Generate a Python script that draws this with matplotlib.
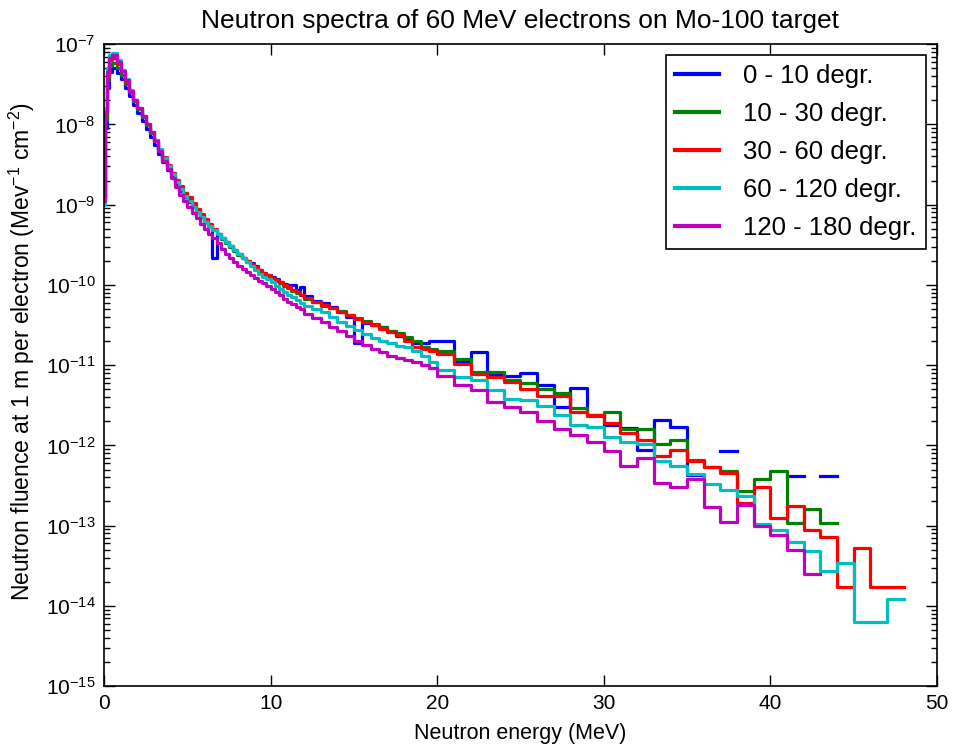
import numpy as np
import matplotlib
matplotlib.use('Agg')
import matplotlib.pyplot as plt
from matplotlib.ticker import FixedLocator, NullFormatter, MultipleLocator, LogFormatterSciNotation

plt.rcParams['font.family'] = ['Liberation Sans', 'DejaVu Sans']
plt.rcParams['mathtext.fontset'] = 'custom'
plt.rcParams['mathtext.rm'] = 'Liberation Sans'
plt.rcParams['mathtext.it'] = 'Liberation Sans:italic'
plt.rcParams['mathtext.sf'] = 'Liberation Sans'

# ---- data -------------------------------------------------------------
# bin edges (MeV)
edges = np.concatenate([
    [0.0, 0.05, 0.15, 0.3, 0.5, 0.75, 1.0],
    np.arange(1.25, 12.01, 0.25),
    np.arange(12.5, 20.01, 0.5),
    np.arange(21.0, 48.01, 1.0),
])

labels = ['0 - 10 degr.', '10 - 30 degr.', '30 - 60 degr.', '60 - 120 degr.', '120 - 180 degr.']
colors = ['b', 'g', 'r', 'c', 'm']
decades = [-15, -14, -13, -12, -11, -10, -9, -8, -7]

nan = np.nan

# log10 of fluence per bin
log_0_10 = [
    -8.80, -8.05, -7.55, -7.35, -7.30, -7.36,
    -7.43, -7.54, -7.65, -7.76, -7.86, -7.96, -8.06, -8.16,
    -8.26, -8.37, -8.47, -8.57, -8.66, -8.75, -8.83, -8.90,
    -8.97, -9.03, -9.09, -9.15, -9.21, -9.26, -9.67, -9.36,
    -9.42, -9.47, -9.52, -9.57, -9.61, -9.66, -9.70, -9.73,
    -9.77, -9.81, -9.85, -9.88, -9.90, -9.93, -9.96, -9.99,
    -10.00, -10.00, -10.06, -10.02,
    -10.14, -10.20, -10.23, -10.27, -10.34, -10.40, -10.73, -10.47,
    -10.50, -10.53, -10.58, -10.64, -10.68, -10.72, -10.73, -10.70,
    -10.70, -10.96, -10.84, -11.12, -11.14, -11.10, -11.25, -11.52, -11.28, -11.62,
    -11.75, -11.78, -12.06, -11.68, -11.77, -12.37, nan, -12.07, nan, nan,
    nan, -12.38, nan, -12.38, nan, nan, nan, nan,
]
log_10_30 = [
    -8.90, -7.95, -7.45, -7.27, -7.24, -7.30,
    -7.38, -7.49, -7.60, -7.71, -7.81, -7.91, -8.01, -8.11,
    -8.21, -8.32, -8.42, -8.52, -8.61, -8.70, -8.78, -8.86,
    -8.93, -9.00, -9.06, -9.13, -9.19, -9.25, -9.31, -9.37,
    -9.43, -9.48, -9.53, -9.58, -9.63, -9.67, -9.71, -9.75,
    -9.79, -9.83, -9.86, -9.89, -9.92, -9.95, -9.98, -10.01,
    -10.04, -10.07, -10.10, -10.13,
    -10.17, -10.21, -10.26, -10.29, -10.33, -10.38, -10.41, -10.45,
    -10.49, -10.53, -10.57, -10.60, -10.65, -10.70, -10.77, -10.80,
    -10.83, -10.92, -11.08, -11.08, -11.19, -11.22, -11.30, -11.35, -11.54, -11.64,
    -11.58, -11.79, -11.79, -11.98, -11.93, -12.18, -12.27, -12.32, -12.57, -12.42,
    -12.32, -12.97, -12.79, -12.97, nan, nan, nan, nan,
]
log_30_60 = [
    -8.90, -7.85, -7.38, -7.20, -7.17, -7.25,
    -7.34, -7.46, -7.58, -7.70, -7.80, -7.90, -8.00, -8.10,
    -8.20, -8.31, -8.41, -8.51, -8.60, -8.69, -8.77, -8.85,
    -8.91, -8.98, -9.05, -9.12, -9.18, -9.24, -9.30, -9.36,
    -9.42, -9.47, -9.52, -9.57, -9.62, -9.66, -9.70, -9.74,
    -9.78, -9.82, -9.85, -9.88, -9.91, -9.94, -9.97, -10.00,
    -10.03, -10.06, -10.09, -10.12,
    -10.16, -10.21, -10.25, -10.29, -10.34, -10.38, -10.42, -10.46,
    -10.50, -10.55, -10.59, -10.63, -10.70, -10.77, -10.80, -10.82,
    -10.86, -10.99, -11.11, -11.15, -11.21, -11.30, -11.39, -11.39, -11.59, -11.62,
    -11.72, -11.85, -11.93, -12.13, -12.06, -12.20, -12.27, -12.35, -12.72, -12.52,
    -12.90, -12.76, -13.06, -13.14, -13.77, -13.28, -13.77, -13.77,
]
log_60_120 = [
    -9.00, -7.80, -7.30, -7.13, -7.11, -7.20,
    -7.32, -7.44, -7.57, -7.69, -7.79, -7.89, -7.99, -8.09,
    -8.20, -8.31, -8.42, -8.52, -8.62, -8.72, -8.81, -8.89,
    -8.96, -9.03, -9.09, -9.15, -9.21, -9.27, -9.32, -9.37,
    -9.42, -9.47, -9.52, -9.57, -9.62, -9.67, -9.72, -9.77,
    -9.81, -9.86, -9.90, -9.93, -9.97, -10.01, -10.05, -10.09,
    -10.12, -10.15, -10.19, -10.22,
    -10.26, -10.30, -10.34, -10.40, -10.46, -10.51, -10.56, -10.61,
    -10.66, -10.70, -10.73, -10.76, -10.78, -10.82, -10.88, -10.96,
    -11.06, -11.15, -11.19, -11.31, -11.42, -11.44, -11.51, -11.62, -11.75, -11.77,
    -11.89, -11.96, -11.98, -12.19, -12.26, -12.36, -12.48, -12.55, -12.63, -12.98,
    -13.06, -13.21, -13.32, -13.56, -13.46, -14.20, -14.20, -13.91,
]
log_120_180 = [
    -8.95, -7.85, -7.35, -7.17, -7.14, -7.22,
    -7.33, -7.45, -7.58, -7.70, -7.80, -7.90, -8.00, -8.10,
    -8.21, -8.33, -8.45, -8.56, -8.67, -8.78, -8.88, -8.96,
    -9.03, -9.10, -9.17, -9.24, -9.30, -9.36, -9.42, -9.48,
    -9.55, -9.61, -9.66, -9.71, -9.76, -9.80, -9.84, -9.88,
    -9.92, -9.95, -9.98, -10.01, -10.05, -10.09, -10.13, -10.17,
    -10.21, -10.24, -10.27, -10.30,
    -10.36, -10.41, -10.46, -10.52, -10.58, -10.64, -10.70, -10.75,
    -10.80, -10.84, -10.88, -10.91, -10.93, -10.96, -11.00, -11.04,
    -11.14, -11.25, -11.31, -11.46, -11.52, -11.58, -11.69, -11.79, -11.87, -11.96,
    -12.07, -12.26, -12.16, -12.47, -12.52, -12.42, -12.77, -12.95, -12.74, -13.01,
    -13.12, -13.30, -13.60, nan, nan, nan, nan, nan,
]

series = [log_0_10, log_10_30, log_30_60, log_60_120, log_120_180]

# ---- plot -------------------------------------------------------------
fig = plt.figure(figsize=(9.55, 7.49), dpi=100)
ax = fig.add_axes([0.109, 0.084, 0.872, 0.857])

for vals, col, lab in zip(series, colors, labels):
    y = 10.0 ** np.array(vals, dtype=float)
    y = np.append(y, y[-1])
    ax.plot(edges, y, drawstyle='steps-post', color=col, lw=2.3, label=lab)

ax.set_yscale('log')
ax.set_xlim(0, 50)
ax.set_ylim(1e-15, 1e-7)
ax.xaxis.set_major_locator(MultipleLocator(10))
major = [10.0 ** d for d in decades]
minor = [m * 10.0 ** d for d in decades[:-1] for m in range(2, 10)]
ax.yaxis.set_major_locator(FixedLocator(major))
ax.yaxis.set_major_formatter(LogFormatterSciNotation())
ax.yaxis.set_minor_locator(FixedLocator(minor))
ax.yaxis.set_minor_formatter(NullFormatter())
ax.xaxis.get_offset_text().set_visible(False)
ax.yaxis.get_offset_text().set_visible(False)

ax.tick_params(which='both', direction='in', top=True, right=True, labelsize=15)
ax.tick_params(which='major', length=8, width=1)
ax.tick_params(which='minor', length=4, width=1)
ax.tick_params(axis='x', pad=6)
ax.tick_params(axis='y', pad=6)
for s in ax.spines.values():
    s.set_linewidth(1.2)

ax.set_title('Neutron spectra of 60 MeV electrons on Mo-100 target', fontsize=19, pad=12)
ax.set_xlabel('Neutron energy (MeV)', fontsize=15.5, labelpad=7)
ax.set_ylabel('Neutron fluence at 1 m per electron (Mev$^{-1}$ cm$^{-2}$)', fontsize=16.5)
ax.yaxis.set_label_coords(-0.08, 0.522)

leg = ax.legend(loc='upper right', fontsize=18.5, fancybox=False, framealpha=1,
                edgecolor='black', handlelength=1.7, borderpad=0.35, labelspacing=0.54,
                handletextpad=0.95, borderaxespad=0.43)
leg.get_frame().set_linewidth(1.2)
for h in leg.get_lines():
    h.set_linewidth(3)

fig.savefig('out.png', dpi=100)
